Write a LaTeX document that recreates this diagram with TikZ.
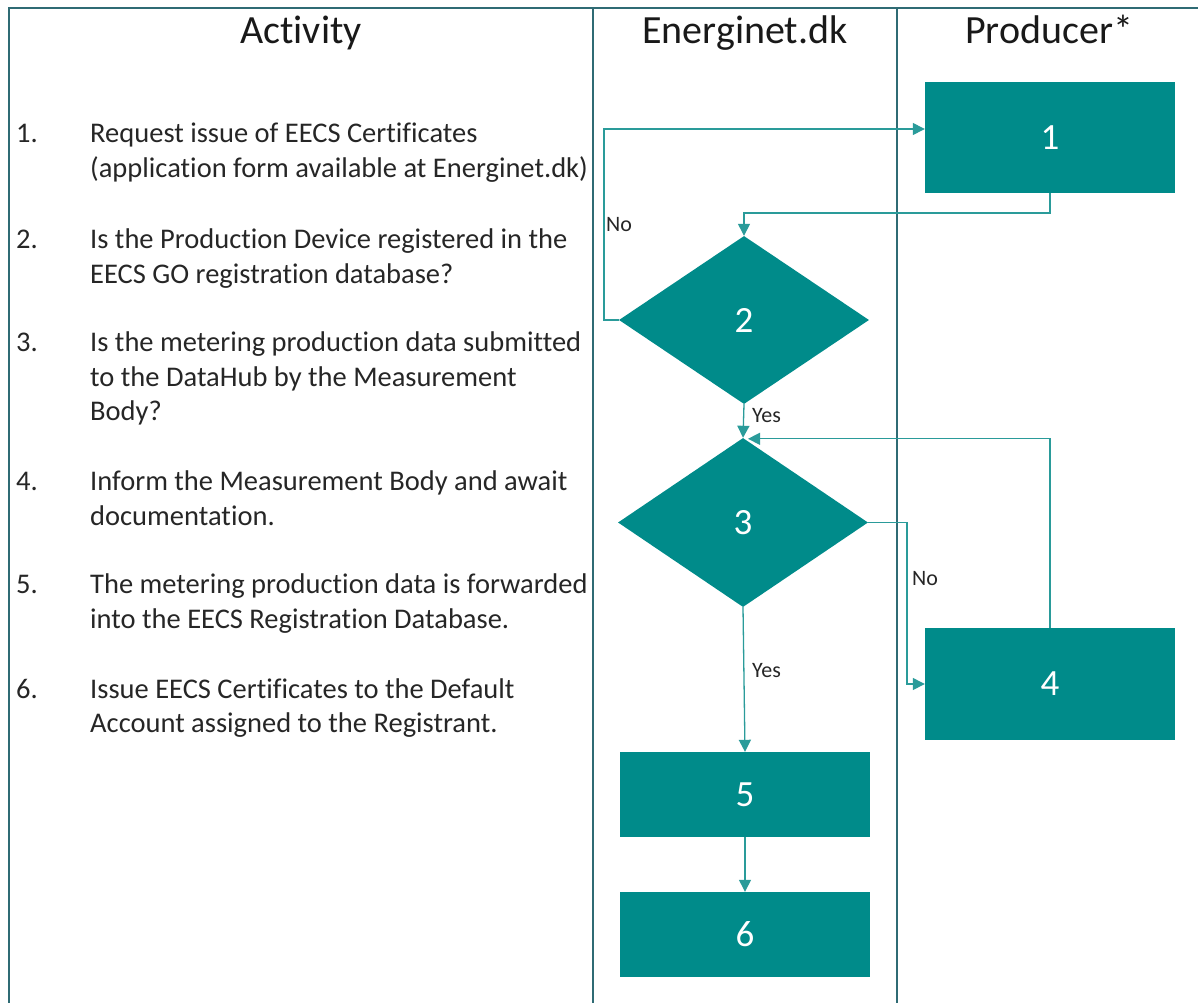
\documentclass[tikz,border=0pt]{standalone}
\usepackage{fontspec}
\setmainfont[Ligatures=NoCommon]{Carlito}
\usetikzlibrary{arrows.meta,shapes.geometric}
\definecolor{teal1}{HTML}{008B8A}
\definecolor{lane}{HTML}{2F6B74}
\definecolor{conn}{HTML}{2A9B9A}
\definecolor{txt}{HTML}{262626}
\begin{document}
\begin{tikzpicture}[x=1pt,y=-1pt,
  box/.style={fill=teal1,draw=none,minimum width=250pt,inner sep=0pt,text=white,font=\fontsize{37}{40}\selectfont},
  dia/.style={diamond,fill=teal1,draw=none,inner sep=0pt,minimum width=250pt,minimum height=168pt,text=white,font=\fontsize{37}{40}\selectfont},
  conn/.style={draw=conn,line width=1.3pt,-{Triangle[length=12pt,width=12pt]}},
  head/.style={anchor=base,text=black!90,font=\fontsize{40}{44}\selectfont,inner sep=0pt},
  item/.style={anchor=base west,text=txt,font=\fontsize{28.5}{33}\selectfont,inner sep=0pt},
  lbl/.style={anchor=base west,text=txt,font=\fontsize{22}{24}\selectfont,inner sep=0pt},
  lanel/.style={draw=lane,line width=2pt}]
\useasboundingbox (0,0) rectangle (1198,1003);
% lanes
\draw[lanel] (1198,8) -- (9,8) -- (9,1003);
\draw[lanel] (592.5,8) -- (592.5,1003);
\draw[lanel] (897,8) -- (897,1003);
% headers
\node[head] (hA) at (301,44) {Activity};
\node[head] (hE) at (745,44) {Energinet.dk};
\node[head] (hP) at (1049,44) {Producer*};
% items
\node[item] (n1) at (16,143) {1.};
\node[item] (t1a) at (90,143) {Request issue of EECS Certificates};
\node[item] (t1b) at (90,178) {(application form available at Energinet.dk)};
\node[item] (n2) at (16,248) {2.};
\node[item] (t2a) at (90,248) {Is the Production Device registered in the};
\node[item] (t2b) at (90,283) {EECS GO registration database?};
\node[item] (n3) at (16,351) {3.};
\node[item] (t3a) at (90,351) {Is the metering production data submitted};
\node[item] (t3b) at (90,386) {to the DataHub by the Measurement};
\node[item] (t3c) at (90,420) {Body?};
\node[item] (n4) at (16,490) {4.};
\node[item] (t4a) at (90,490) {Inform the Measurement Body and await};
\node[item] (t4b) at (90,525) {documentation.};
\node[item] (n5) at (16,593) {5.};
\node[item] (t5a) at (90,593) {The metering production data is forwarded};
\node[item] (t5b) at (90,628) {into the EECS Registration Database.};
\node[item] (n6) at (16,698) {6.};
\node[item] (t6a) at (90,698) {Issue EECS Certificates to the Default};
\node[item] (t6b) at (90,732) {Account assigned to the Registrant.};
% shapes
\node[box,minimum height=111pt] (b1) at (1050,137.5) {1};
\node[dia] (d2) at (744,320) {2};
\node[dia,minimum height=169pt] (d3) at (743,522.5) {3};
\node[box,minimum height=112pt] (b4) at (1050,684) {4};
\node[box,minimum height=85pt] (b5) at (745,794.5) {5};
\node[box,minimum height=85pt] (b6) at (745,934.5) {6};
% connectors
\draw[conn] (b1.south) -- (b1.south |- 0,213) -| (d2.north);
\draw[conn] (d2.west) -- (604,320) |- (b1.west |- 0,129);
\draw[conn] (d2.south) -- (d3.north);
\draw[conn] (d3.east) -- (907,522.5) |- (b4.west);
\draw[conn] (b4.north) |- ([xshift=5pt,yshift=-1pt]d3.north);
\draw[conn] (d3.south) -- (b5.north);
\draw[conn] (b5.south) -- (b6.north);
% labels
\node[lbl] (lno1) at (606,231) {No};
\node[lbl] (lyes1) at (752,422) {Yes};
\node[lbl] (lno2) at (912,585) {No};
\node[lbl] (lyes2) at (752,677) {Yes};
\end{tikzpicture}
\end{document}
